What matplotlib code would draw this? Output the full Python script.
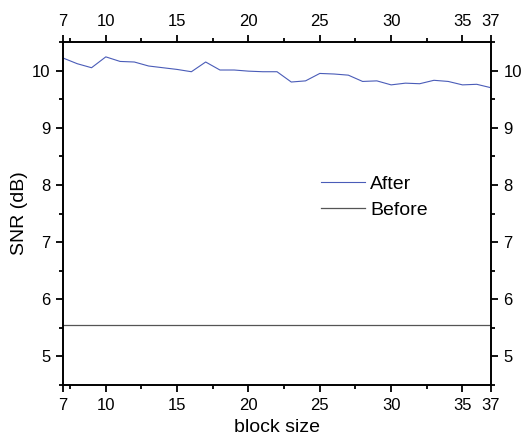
import matplotlib.pyplot as plt
from matplotlib.ticker import MultipleLocator, FixedLocator

plt.rcParams['font.family'] = ['Liberation Sans', 'DejaVu Sans']

block_size = list(range(7, 38))
snr_after = [10.22, 10.12, 10.05, 10.24, 10.16, 10.15, 10.08, 10.05, 10.02, 9.98,
             10.15, 10.01, 10.01, 9.99, 9.98, 9.98, 9.80, 9.82, 9.95, 9.94,
             9.92, 9.81, 9.82, 9.75, 9.78, 9.77, 9.83, 9.81, 9.75, 9.76, 9.70]
snr_before = [5.55] * len(block_size)
xticks = [7, 10, 15, 20, 25, 30, 35, 37]

fig = plt.figure(figsize=(5.22, 4.43), dpi=100)
ax = fig.add_axes([0.1207, 0.1309, 0.8199, 0.7743])

ax.plot(block_size, snr_after, color='#4a5cb8', lw=0.8, label='After')
ax.plot(block_size, snr_before, color='#555555', lw=0.9, label='Before')

ax.set_xlim(7, 37)
ax.set_ylim(4.5, 10.5)
ax.xaxis.set_major_locator(FixedLocator(xticks))
ax.xaxis.set_minor_locator(FixedLocator([7.5, 12.5, 17.5, 22.5, 27.5, 32.5]))
ax.yaxis.set_major_locator(MultipleLocator(1))
ax.yaxis.set_minor_locator(MultipleLocator(0.5))

ax.tick_params(which='both', direction='out', top=True, right=True,
               labeltop=True, labelright=True, labelsize=12, width=1.3)
ax.tick_params(which='major', length=5, pad=4)
ax.tick_params(which='minor', length=3)
for s in ax.spines.values():
    s.set_linewidth(1.4)

ax.set_xlabel('block size', fontsize=14, labelpad=5)
ax.set_ylabel('SNR (dB)', fontsize=14, labelpad=3)

ax.legend(loc='upper left', bbox_to_anchor=(0.603, 0.612), frameon=False,
          borderaxespad=0, borderpad=0, handlelength=2.27, handletextpad=0.25,
          labelspacing=0.45, fontsize=14)

fig.savefig('out.png', dpi=100)
